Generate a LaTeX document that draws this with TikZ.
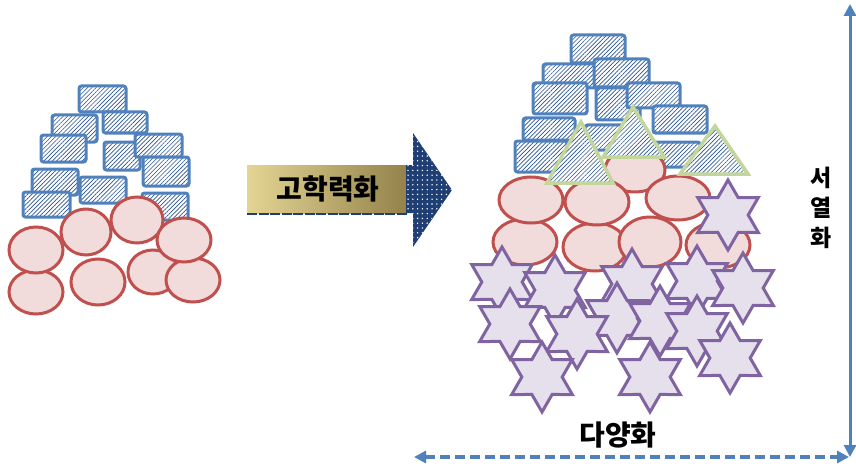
\documentclass[tikz,border=0pt]{standalone}
\usepackage{fontspec}
\newfontfamily\kr{Noto Sans CJK KR}
\usetikzlibrary{patterns.meta,arrows.meta}
\definecolor{brickblue}{HTML}{4F81BD}
\definecolor{hatchnavy}{HTML}{2A5290}
\definecolor{blobred}{HTML}{C0504D}
\definecolor{blobfill}{HTML}{F2DCDB}
\definecolor{trigreen}{HTML}{C3D69B}
\definecolor{starpurple}{HTML}{8064A2}
\definecolor{starfill}{HTML}{E5E0EC}
\definecolor{headnavy}{HTML}{1F3F74}
\definecolor{goldL}{HTML}{E4D594}
\definecolor{goldR}{HTML}{94824A}
\tikzset{
  brick/.style={draw=brickblue, line width=3pt, rounded corners=2.5pt,
    preaction={fill=white},
    pattern={Lines[angle=45,distance=3pt,line width=0.65pt]}, pattern color=hatchnavy},
  blob/.style={draw=blobred, fill=blobfill, line width=3pt},
  tri/.style={draw=trigreen, line width=3.5pt, line join=miter,
    preaction={fill=white},
    pattern={Lines[angle=45,distance=3pt,line width=0.65pt]}, pattern color=hatchnavy},
  starsty/.style={draw=starpurple, fill=starfill, line width=3pt, line join=miter},
  headsty/.style={preaction={fill=headnavy},
    pattern={Dots[distance=4.8pt,radius=0.8pt]}, pattern color=white},
  lbl/.style={font=\kr\bfseries\fontsize{28}{32}\selectfont, text=black, inner sep=0pt},
  axis/.style={draw=brickblue, line width=3pt, {Triangle[length=12pt,width=12pt]}-{Triangle[length=12pt,width=12pt]}},
}
\newcommand\hexa[2]{%
  \draw[starsty, shift={(#1,#2)}] (90:35) -- (120:20.2) -- (150:35) -- (180:20.2) -- (210:35) -- (240:20.2)
    -- (270:35) -- (300:20.2) -- (330:35) -- (0:20.2) -- (30:35) -- (60:20.2) -- cycle;}
\begin{document}
\begin{tikzpicture}[x=1pt,y=-1pt]
\useasboundingbox (0,0) rectangle (856,468);

% ---- left cluster: bricks
\draw[brick] (79,86) rectangle (126,112);
\draw[brick] (52,115) rectangle (97,142);
\draw[brick] (103,112) rectangle (147,133);
\draw[brick] (41,135) rectangle (86,162);
\draw[brick] (104,142) rectangle (140,170);
\draw[brick] (135,134) rectangle (182,157);
\draw[brick] (143,157) rectangle (189,186);
\draw[brick] (32,169) rectangle (78,195);
\draw[brick] (80,177) rectangle (126,203);
\draw[brick] (23,192) rectangle (70,217);
\draw[brick] (142,193) rectangle (188,220);
% ---- left cluster: ellipses
\draw[blob] (36,292) ellipse [x radius=27, y radius=22];
\draw[blob] (98,282) ellipse [x radius=27, y radius=23];
\draw[blob] (153,272) ellipse [x radius=25, y radius=22];
\draw[blob] (193,280) ellipse [x radius=27, y radius=22];
\draw[blob] (36,250) ellipse [x radius=27, y radius=23];
\draw[blob] (86,232) ellipse [x radius=25, y radius=23];
\draw[blob] (137,220) ellipse [x radius=26, y radius=23];
\draw[blob] (184,240) ellipse [x radius=27, y radius=22];

% ---- big arrow
\shade[left color=goldL, right color=goldR] (247,165) rectangle (407,213);
\draw[headnavy, line width=2pt, dash pattern=on 10pt off 1.5pt] (247,214) -- (407,214);
\path[headsty] (406,165) -- (413,165) -- (413,133) -- (452,190) -- (413,247) -- (413,213) -- (406,213) -- cycle;
\node[lbl] (up) at (328,189) {고학력화};

% ---- right cluster: bricks
\draw[brick] (571,35) rectangle (625,63);
\draw[brick] (543,64) rectangle (597,88);
\draw[brick] (594,59) rectangle (649,87);
\draw[brick] (533,83) rectangle (587,114);
\draw[brick] (596,88) rectangle (640,120);
\draw[brick] (627,83) rectangle (680,108);
\draw[brick] (653,106) rectangle (707,133);
\draw[brick] (523,118) rectangle (575,140);
\draw[brick] (585,125) rectangle (640,150);
\draw[brick] (515,141) rectangle (567,172);
\draw[brick] (645,142) rectangle (700,167);
% ---- right cluster: ellipses
\draw[blob] (525,242) ellipse [x radius=32, y radius=23];
\draw[blob] (595,247) ellipse [x radius=32, y radius=24];
\draw[blob] (650,242) ellipse [x radius=31, y radius=25];
\draw[blob] (718,245) ellipse [x radius=32, y radius=23];
\draw[blob] (635,170) ellipse [x radius=30, y radius=22];
\draw[blob] (531,200) ellipse [x radius=32, y radius=23];
\draw[blob] (597,202) ellipse [x radius=32, y radius=23];
\draw[blob] (678,198) ellipse [x radius=32, y radius=22];
% ---- triangles
\draw[tri] (633,107) -- (664,157) -- (603,157) -- cycle;
\draw[tri] (581,122) -- (613,183) -- (547,183) -- cycle;
\draw[tri] (715,126) -- (748,174) -- (680,174) -- cycle;
% ---- stars
\hexa{728}{215}
\hexa{502}{282}
\hexa{555}{290}
\hexa{632}{284}
\hexa{697}{281}
\hexa{743}{288}
\hexa{510}{324}
\hexa{617}{318}
\hexa{660}{321}
\hexa{577}{334}
\hexa{697}{331}
\hexa{730}{358}
\hexa{542}{377}
\hexa{650}{377}

% ---- axes
\coordinate (vtop) at (850,4);
\coordinate (corner) at (850,457);
\coordinate (hleft) at (414,457);
\coordinate (hright) at (849,457);
\draw[axis] (vtop) -- (corner);
\draw[axis, line width=3.5pt, dash pattern=on 10pt off 5pt] (hleft) -- (hright);
\node[lbl, font=\kr\bfseries\fontsize{23}{30}\selectfont, align=center] (vlab) at (821,208) {서\\열\\화};
\node[lbl] (hlab) at (618,435) {다양화};
\end{tikzpicture}
\end{document}
